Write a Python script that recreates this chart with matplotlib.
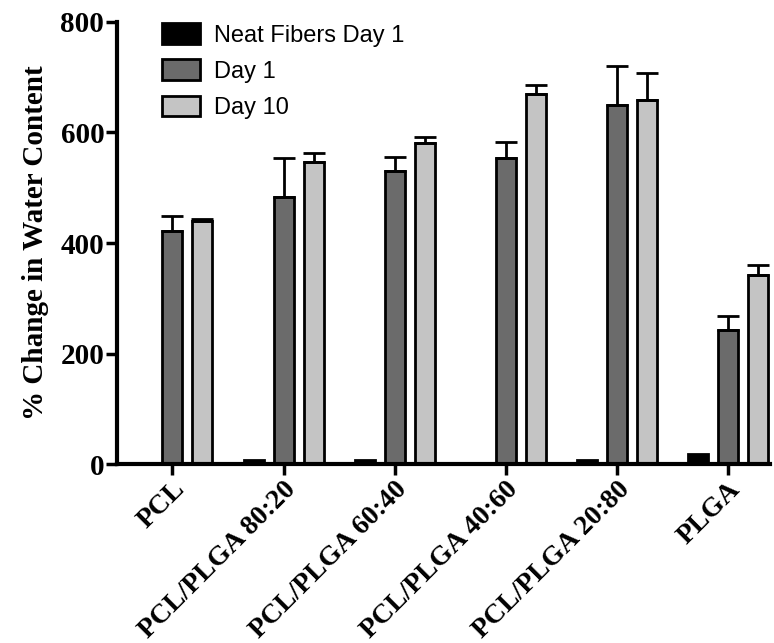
import numpy as np
import matplotlib
matplotlib.use("Agg")
import matplotlib.pyplot as plt

# data
groups = ["PCL", "PCL/PLGA 80:20", "PCL/PLGA 60:40", "PCL/PLGA 40:60",
          "PCL/PLGA 20:80", "PLGA"]
neat_day1 = [0, 8, 8, 0, 7, 19]
day1 = [421, 484, 530, 554, 650, 243]
day1_err = [28, 70, 26, 28, 70, 25]
day10 = [440, 547, 581, 669, 659, 342]
day10_err = [3, 15, 10, 16, 48, 19]

serif = "Liberation Serif"
x = np.arange(len(groups))
w = 0.18
off = 0.27

fig = plt.figure(figsize=(7.74, 6.43), dpi=100)
ax = fig.add_axes([0.151, 0.278, 0.844, 0.688])

lw = 2.0
ekw = dict(elinewidth=2, capthick=2, ecolor="black")
ax.bar(x - off, neat_day1, w, color="black", edgecolor="black", linewidth=lw,
       label="Neat Fibers Day 1")
zeros = [0] * len(groups)
ax.bar(x, day1, w, color="#6b6b6b", edgecolor="black", linewidth=lw,
       yerr=[zeros, day1_err], capsize=8, error_kw=ekw, label="Day 1")
ax.bar(x + off, day10, w, color="#c4c4c4", edgecolor="black", linewidth=lw,
       yerr=[zeros, day10_err], capsize=8, error_kw=ekw, label="Day 10")

ax.set_xlim(-0.5, 5.38)
ax.set_ylim(0, 800)
ax.set_yticks([0, 200, 400, 600, 800])
ax.set_xticks(x)
ax.set_xticklabels(groups, rotation=45, ha="right", rotation_mode="anchor",
                   fontfamily=serif, fontweight="bold", fontsize=20)
for lab in ax.get_yticklabels():
    lab.set_fontfamily(serif)
    lab.set_fontweight("bold")
    lab.set_fontsize(21)

for s in ["top", "right"]:
    ax.spines[s].set_visible(False)
for s in ["left", "bottom"]:
    ax.spines[s].set_linewidth(3)
ax.tick_params(axis="both", width=2.5, length=8, pad=1)

ax.set_ylabel("% Change in Water Content", fontfamily=serif,
              fontweight="bold", fontsize=21, labelpad=8)

ax.legend(loc="upper left", bbox_to_anchor=(0.037, 1.045), frameon=False,
          prop={"family": "Liberation Sans", "size": 17},
          handlelength=1.6, handleheight=0.95, labelspacing=0.55,
          handletextpad=0.6)

fig.savefig("out.png", dpi=100)
